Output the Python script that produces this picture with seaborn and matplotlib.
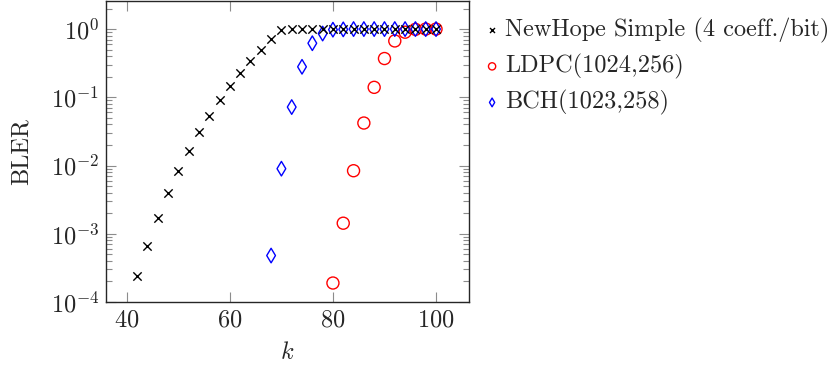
import matplotlib
matplotlib.use('Agg')
import matplotlib.pyplot as plt
import seaborn as sns
import pandas as pd

# values
k_newhope = [42, 44, 46, 48, 50, 52, 54, 56, 58, 60, 62, 64, 66, 68, 70,
             72, 74, 76, 78, 80, 82, 84, 86, 88, 90, 92, 94, 96, 98, 100]
bler_newhope = [2.4e-4, 6.7e-4, 1.7e-3, 3.9e-3, 8.3e-3, 1.64e-2, 3.1e-2, 5.4e-2,
                9.1e-2, 0.147, 0.23, 0.34, 0.50, 0.71, 0.97,
                0.99, 1.0, 1.0, 1.0, 1.0, 1.0, 1.0, 1.0, 1.0, 1.0, 1.0, 1.0, 1.0, 1.0, 1.0]

k_ldpc = [80, 82, 84, 86, 88, 90, 92, 94, 96, 98, 100]
bler_ldpc = [1.9e-4, 1.43e-3, 8.4e-3, 4.2e-2, 0.14, 0.37, 0.67, 0.90, 0.99, 1.0, 1.0]

k_bch = [68, 70, 72, 74, 76, 78, 80, 82, 84, 86, 88, 90, 92, 94, 96, 98, 100]
bler_bch = [4.8e-4, 9.0e-3, 7.2e-2, 0.28, 0.62, 0.86, 0.98, 0.99, 1.0, 1.0, 1.0,
            1.0, 1.0, 1.0, 1.0, 1.0, 1.0]

labels = ['NewHope Simple (4 coeff./bit)', 'LDPC(1024,256)', 'BCH(1023,258)']

sns.set_style('ticks')
plt.rcParams['font.family'] = ['cmr10', 'DejaVu Serif']
plt.rcParams['mathtext.fontset'] = 'cm'
plt.rcParams['axes.formatter.use_mathtext'] = True
plt.rcParams['font.size'] = 17.5
plt.rcParams['axes.unicode_minus'] = False

fig = plt.figure(figsize=(8.36, 3.67), dpi=100)
ax = fig.add_axes([0.127, 0.177, 0.434, 0.82])

df_nh = pd.DataFrame({'k': k_newhope, 'bler': bler_newhope})
df_ldpc = pd.DataFrame({'k': k_ldpc, 'bler': bler_ldpc})
df_bch = pd.DataFrame({'k': k_bch, 'bler': bler_bch})

sns.scatterplot(data=df_nh, x='k', y='bler', marker='x', color='black',
                s=36, linewidth=1.0, label=labels[0], ax=ax, zorder=3)
sns.scatterplot(data=df_ldpc, x='k', y='bler', marker='o', facecolors='none',
                edgecolor='red', s=75, linewidth=1.0, label=labels[1], ax=ax, zorder=2)
sns.scatterplot(data=df_bch, x='k', y='bler', marker='d', facecolors='none',
                edgecolor='blue', s=55, linewidth=1.0, label=labels[2], ax=ax, zorder=2)

ax.set_yscale('log')
ax.set_xlim(36, 106.4)
ax.set_ylim(1e-4, 2.57)
ax.set_xticks([40, 60, 80, 100])
ax.set_xlabel('$k$', labelpad=8)
ax.set_ylabel('BLER', labelpad=13)

ax.tick_params(which='both', direction='in', top=True, right=True, color='0.55')
ax.tick_params(which='major', length=7, width=0.8, pad=5)
ax.tick_params(which='minor', length=4, width=0.8)
ax.tick_params(axis='x', which='minor', top=False, bottom=False)
for s in ax.spines.values():
    s.set_linewidth(1.0)

ax.legend(loc='upper left', bbox_to_anchor=(1.0, 1.0), frameon=False,
          markerscale=0.6, handlelength=0.5, handletextpad=0.3,
          labelspacing=0.45, borderaxespad=0.3)

fig.savefig('out.png', dpi=100)
